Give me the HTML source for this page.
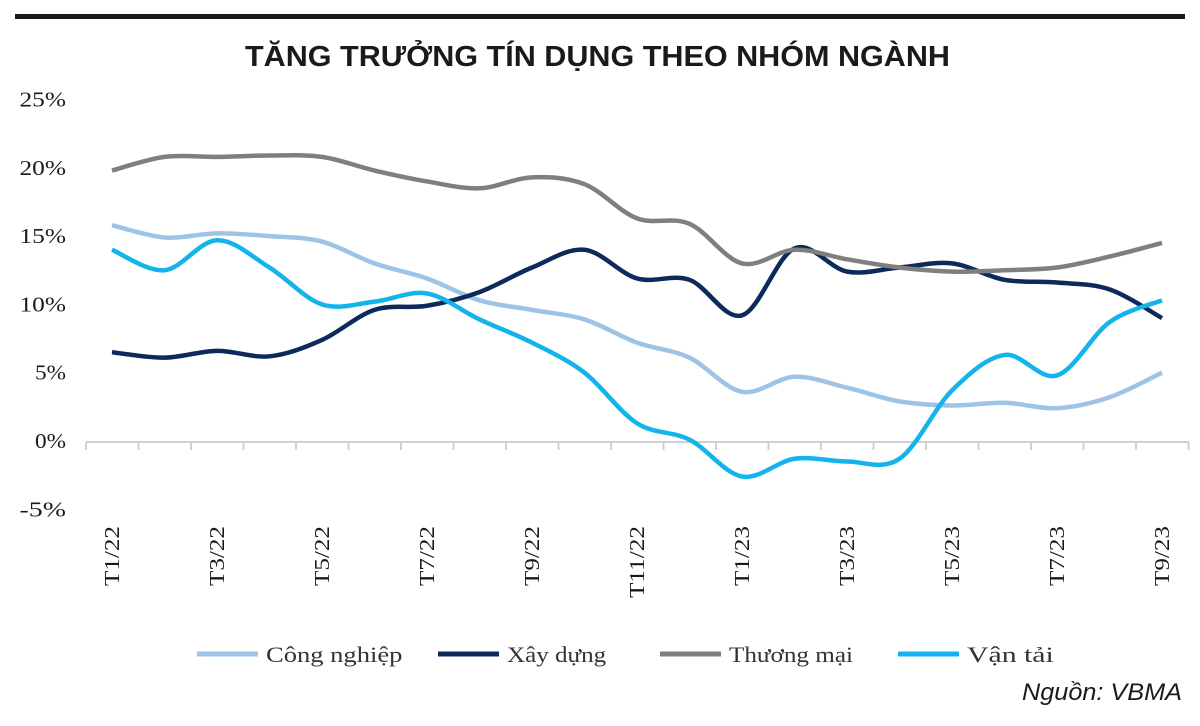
<!DOCTYPE html>
<html><head><meta charset="utf-8"><style>
body{margin:0;background:#fff;width:1200px;height:726px;overflow:hidden}
svg{display:block}
</style></head><body>
<svg width="1200" height="726">
<rect x="15" y="14" width="1170" height="5" fill="#1a1a1a"/>
<text x="245" y="66" textLength="705" lengthAdjust="spacingAndGlyphs" font-family="Liberation Sans, DejaVu Sans, sans-serif" font-weight="bold" font-size="29" fill="#1a1a1a">TĂNG TRƯỞNG TÍN DỤNG THEO NHÓM NGÀNH</text>
<g id="yaxis"></g>
<g id="xaxis"></g>
<g id="series"></g>
<g id="legend"></g>
<text x="1182" y="700" text-anchor="end" textLength="160" lengthAdjust="spacingAndGlyphs" font-family="Liberation Sans, DejaVu Sans, sans-serif" font-style="italic" font-size="24" fill="#1a1a1a">Nguồn: VBMA</text>
</svg>
<script>
const categories=["T1/22","T2/22","T3/22","T4/22","T5/22","T6/22","T7/22","T8/22","T9/22","T10/22","T11/22","T12/22","T1/23","T2/23","T3/23","T4/23","T5/23","T6/23","T7/23","T8/23","T9/23"];
const congNghiep=[15.8,14.9,15.2,15.0,14.6,13.0,11.9,10.3,9.6,8.9,7.2,6.1,3.6,4.7,3.9,2.9,2.6,2.8,2.4,3.2,5.0];
const xayDung=[6.5,6.1,6.6,6.2,7.4,9.6,9.9,10.9,12.7,14.0,11.9,11.8,9.2,14.1,12.4,12.7,13.0,11.8,11.6,11.1,9.0];
const thuongMai=[19.8,20.8,20.8,20.9,20.8,19.8,19.0,18.5,19.3,18.8,16.3,15.9,13.0,14.0,13.3,12.7,12.4,12.5,12.7,13.5,14.5];
const vanTai=[14.0,12.5,14.7,12.7,10.0,10.2,10.8,8.9,7.2,5.0,1.3,0.1,-2.6,-1.3,-1.5,-1.3,3.7,6.3,4.8,8.7,10.3];
const yTicks=[25,20,15,10,5,0,-5];
const seriesNames=["Công nghiệp","Xây dựng","Thương mại","Vận tải"];
const seriesColors=["#9dc3e6","#0d2a5c","#7f7f7f","#13b4ec"];
const NS="http://www.w3.org/2000/svg";
const yS=v=>441-v*13.66;
const xS=i=>112+i*52.5;
function mk(tag,attrs,parent){const e=document.createElementNS(NS,tag);for(const k in attrs)e.setAttribute(k,attrs[k]);parent.appendChild(e);return e;}
const ya=document.getElementById('yaxis');
yTicks.forEach(v=>{const s=v+'%';const t=mk('text',{x:66,y:yS(v)+7,'text-anchor':'end',textLength:s.length*15.5,lengthAdjust:'spacingAndGlyphs','font-family':'Liberation Serif, serif','font-size':21,fill:'#1a1a1a'},ya);t.textContent=s;

});
const xa=document.getElementById('xaxis');
const al=mk('line',{x1:86,x2:1189,y1:442,y2:442,stroke:'#d0d0d0','stroke-width':2},xa);


for(let i=0;i<=categories.length;i++){const x=86+i*52.5;const tk=mk('line',{x1:x,x2:x,y1:442,y2:450,stroke:'#d0d0d0','stroke-width':2},xa);

}
categories.forEach((c,i)=>{if(i%2)return;const x=xS(i);const t=mk('text',{x:0,y:0,transform:`translate(${x+7},526) rotate(-90)`,'text-anchor':'end',textLength:c.length*12,lengthAdjust:'spacingAndGlyphs','font-family':'Liberation Serif, serif','font-size':21,fill:'#1a1a1a'},xa);t.textContent=c;

});
function smooth(pts){let d=`M${pts[0][0]},${pts[0][1]}`;for(let i=0;i<pts.length-1;i++){const p0=pts[i-1]||pts[i],p1=pts[i],p2=pts[i+1],p3=pts[i+2]||p2;const t=6;d+=` C${p1[0]+(p2[0]-p0[0])/t},${p1[1]+(p2[1]-p0[1])/t} ${p2[0]-(p3[0]-p1[0])/t},${p2[1]-(p3[1]-p1[1])/t} ${p2[0]},${p2[1]}`;}return d;}
const sg=document.getElementById('series');
[congNghiep,xayDung,thuongMai,vanTai].forEach((arr,k)=>{const p=mk('path',{d:smooth(arr.map((v,i)=>[xS(i),yS(v)])),fill:'none',stroke:seriesColors[k],'stroke-width':4.5,'stroke-linejoin':'round'},sg);

});
const lg=document.getElementById('legend');
const lx=[197,438,660,898];
seriesNames.forEach((n,k)=>{const l=mk('line',{x1:lx[k],x2:lx[k]+61,y1:654,y2:654,stroke:seriesColors[k],'stroke-width':5},lg);


const t=mk('text',{x:lx[k]+69,y:662,textLength:n.length*12.4,lengthAdjust:'spacingAndGlyphs','font-family':'Liberation Serif, serif','font-size':22,fill:'#333'},lg);t.textContent=n;

});
</script>
</body></html>
